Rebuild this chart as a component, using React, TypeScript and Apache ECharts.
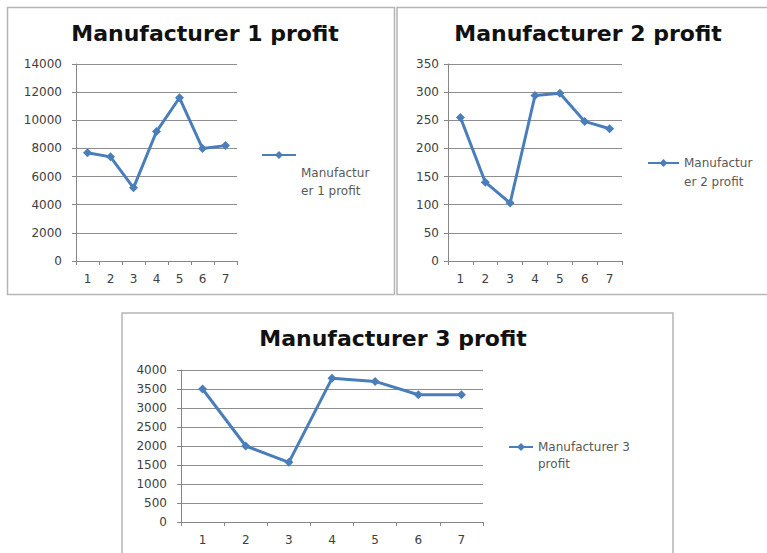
import React, { useEffect, useRef } from "react";
import * as echarts from "echarts";

const categories = ["1", "2", "3", "4", "5", "6", "7"];
const m1Name = "Manufacturer 1 profit";
const m2Name = "Manufacturer 2 profit";
const m3Name = "Manufacturer 3 profit";
const m1Values = [7700, 7400, 5200, 9200, 11600, 8000, 8200];
const m2Values = [255, 140, 103, 294, 298, 248, 235];
const m3Values = [3500, 2000, 1570, 3780, 3700, 3350, 3350];
const m1Legend = ["Manufactur", "er 1 profit"];
const m2Legend = ["Manufactur", "er 2 profit"];
const m3Legend = ["Manufacturer 3", "profit"];

const LINE = "#4a7ebb";
const AXIS = "#868686";
const GRID = "#8e8e8e";
const LABEL = "#404040";
const FONT = "DejaVu Sans";

function xAxis(gridIndex: number) {
  return {
    type: "category",
    gridIndex,
    data: categories,
    boundaryGap: true,
    axisLine: { show: true, lineStyle: { color: AXIS, width: 1 } },
    axisTick: { show: true, length: 4, lineStyle: { color: AXIS } },
    axisLabel: { color: LABEL, fontSize: 12, fontFamily: FONT, margin: 12 },
    splitLine: { show: false },
  };
}

function yAxis(gridIndex: number, max: number, interval: number, margin: number, fontSize: number) {
  return {
    type: "value",
    gridIndex,
    min: 0,
    max,
    interval,
    axisLine: { show: true, lineStyle: { color: AXIS, width: 1 } },
    axisTick: { show: true, length: 4, lineStyle: { color: AXIS } },
    axisLabel: {
      color: LABEL,
      fontSize,
      fontFamily: FONT,
      margin,
      formatter: (v: number) => String(v),
    },
    splitLine: { show: true, lineStyle: { color: GRID, width: 1 } },
  };
}

function series(name: string, data: number[], idx: number) {
  return {
    name,
    type: "line",
    xAxisIndex: idx,
    yAxisIndex: idx,
    data,
    symbol: "diamond",
    symbolSize: 9,
    lineStyle: { color: LINE, width: 3 },
    itemStyle: { color: LINE },
    emphasis: { disabled: true },
  };
}

// blanksBefore: number of empty lines placed above the text so that
// the text sits where the reference's legend text sits relative to the marker
function legend(name: string, lines: string[], blanksBefore: number, left: number, top: number, w: number, lh: number) {
  const all = [...Array(blanksBefore).fill(" "), ...lines];
  const height = all.length * lh;
  return {
    data: [name],
    left,
    top: top - height / 2,
    orient: "vertical",
    padding: 0,
    itemWidth: w,
    itemHeight: 10,
    formatter: () => all.join("\n"),
    textStyle: {
      color: "#595959",
      fontSize: 12,
      fontFamily: FONT,
      lineHeight: lh,
    },
  };
}

function titleOf(text: string, left: number, top: number) {
  return {
    text,
    left,
    top,
    textAlign: "center",
    padding: 0,
    textStyle: { fontFamily: FONT, fontWeight: "bold", fontSize: 22, color: "#111111" },
  };
}

export default function App() {
  const ref = useRef<HTMLDivElement>(null);
  useEffect(() => {
    if (!ref.current) return;
    const chart = echarts.init(ref.current, null, { renderer: "svg" });
    chart.setOption({
      animation: false,
      backgroundColor: "#ffffff",
      title: [
        titleOf(m1Name, 205, 22),
        titleOf(m2Name, 588, 22),
        titleOf(m3Name, 393, 327),
      ],
      grid: [
        { left: 76, top: 64, width: 161, height: 197, containLabel: false },
        { left: 448, top: 64, width: 174, height: 197, containLabel: false },
        { left: 181, top: 370, width: 302, height: 152, containLabel: false },
      ],
      xAxis: [xAxis(0), xAxis(1), xAxis(2)],
      yAxis: [yAxis(0, 14000, 2000, 14, 12), yAxis(1, 350, 50, 9, 12), yAxis(2, 4000, 500, 14, 12)],
      legend: [
        legend(m1Name, m1Legend, 3, 261, 155, 34, 18),
        legend(m2Name, m2Legend, 1, 647, 163, 31, 19),
        legend(m3Name, m3Legend, 1, 508, 447, 24, 17),
      ],
      series: [series(m1Name, m1Values, 0), series(m2Name, m2Values, 1), series(m3Name, m3Values, 2)],
      graphic: [
        { type: "rect", shape: { x: 7.5, y: 7.5, width: 387, height: 287 }, style: { fill: "none", stroke: "#b5b5b5", lineWidth: 1.5 }, silent: true },
        { type: "rect", shape: { x: 397, y: 7.5, width: 400, height: 287 }, style: { fill: "none", stroke: "#b5b5b5", lineWidth: 1.5 }, silent: true },
        { type: "rect", shape: { x: 122, y: 313, width: 551, height: 300 }, style: { fill: "none", stroke: "#b5b5b5", lineWidth: 1.5 }, silent: true },
      ],
    });
    return () => chart.dispose();
  }, []);
  return (
    <div
      ref={ref}
      style={{ position: "fixed", left: 0, top: 0, width: 767, height: 553 }}
    />
  );
}
